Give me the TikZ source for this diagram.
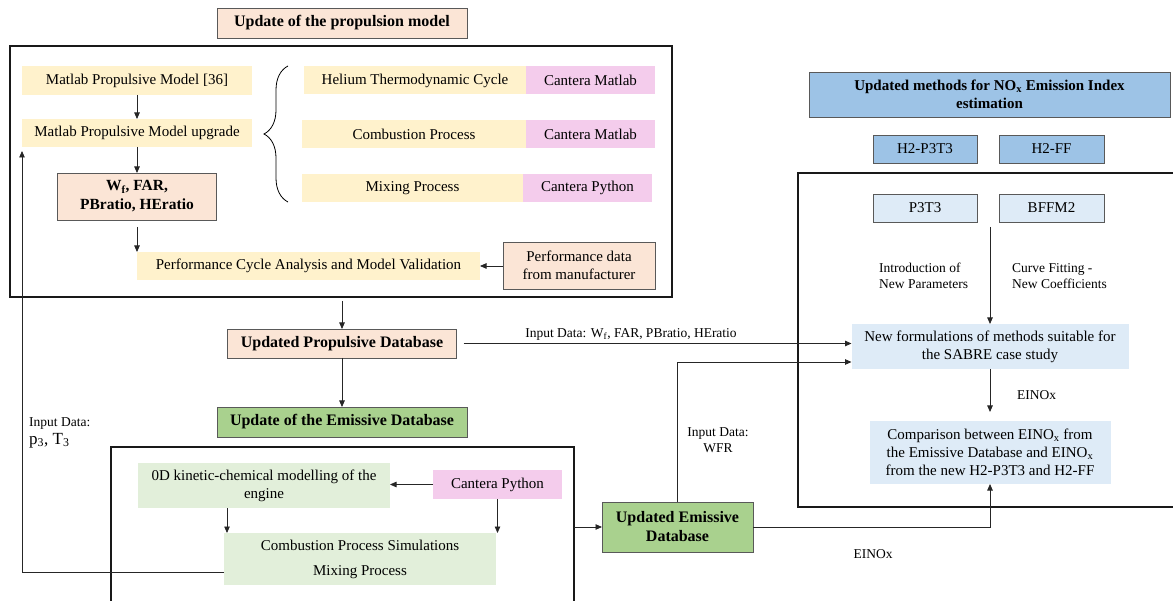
\documentclass[tikz,border=0pt]{standalone}
\usepackage{fontspec}
\setmainfont{Liberation Serif}
\usetikzlibrary{arrows.meta,decorations.pathreplacing,calc}
\definecolor{cyel}{HTML}{FFF2CC}
\definecolor{cpink}{HTML}{F4CCEC}
\definecolor{cpeach}{HTML}{FBE5D6}
\definecolor{cgreen}{HTML}{A9D18E}
\definecolor{clgreen}{HTML}{E2EFDA}
\definecolor{cblue}{HTML}{9DC3E6}
\definecolor{clblue}{HTML}{DEEBF7}
\definecolor{cbord}{HTML}{595959}
\begin{document}
\begin{tikzpicture}[x=1pt,y=-1pt,
  sz/.style 2 args={minimum width=#1pt, minimum height=#2pt},
  base/.style={inner sep=0pt, outer sep=0pt, align=center, font=\fontsize{15}{18}\selectfont},
  yel/.style={base, fill=cyel},
  pnk/.style={base, fill=cpink},
  pch/.style={base, fill=cpeach, draw=cbord, line width=0.8pt},
  pchb/.style={pch, font=\fontsize{16}{19}\selectfont\bfseries},
  grn/.style={base, fill=cgreen, draw=cbord, line width=0.8pt, font=\fontsize{16}{19}\selectfont\bfseries},
  lgrn/.style={base, fill=clgreen},
  blu/.style={base, fill=cblue, draw=cbord, line width=0.8pt},
  lblu/.style={base, fill=clblue, draw=cbord, line width=0.8pt},
  lbluf/.style={base, fill=clblue},
  lbl/.style={inner sep=0pt, font=\fontsize{13.5}{16}\selectfont},
  frame/.style={line width=1.5pt, draw=black!90},
  arr/.style={line width=0.8pt, draw=black!85, -{Triangle[length=6.5pt,width=5.5pt]}},
  ln/.style={line width=0.8pt, draw=black!85}
]
\useasboundingbox (0,0) rectangle (1173,601);

% ---------- top left block ----------
\node[pchb, sz={250}{30}] (title) at (342,23) {Update of the propulsion model};
\node[frame, draw, base, sz={662}{251}] (big) at (341,171.5) {};

\node[yel, sz={230}{29}] (mpm) at (137,80.5) {Matlab Propulsive Model [36]};
\node[yel, sz={230}{28}] (mpmu) at (137,133) {Matlab Propulsive Model upgrade};
\node[pch, sz={159}{47}, font=\fontsize{15.5}{19}\selectfont\bfseries] (wf) at (137,196.5) {W\textsubscript{f}, FAR,\\PBratio, HEratio};
\node[yel, sz={343}{28}, anchor=north west] (perf) at (137,252) {Performance Cycle Analysis and Model Validation};
\node[pch, sz={152}{47}] (pdata) at (579,265.5) {Performance data\\from manufacturer};

\node[yel, sz={222}{28}] (hel) at (415,80.5) {Helium Thermodynamic Cycle};
\node[pnk, sz={129}{28}] (cm1) at (590.5,80.5) {Cantera Matlab};
\node[yel, sz={224}{28}] (comb) at (414,134) {Combustion Process};
\node[pnk, sz={129}{28}] (cm2) at (590.5,134) {Cantera Matlab};
\node[yel, sz={221}{28}] (mix) at (412.5,188) {Mixing Process};
\node[pnk, sz={129}{28}] (cp1) at (587.5,188) {Cantera Python};

\coordinate (brT) at (288,66);
\coordinate (brB) at (288,202);
\draw[line width=0.8pt, decorate, decoration={brace, amplitude=24pt, aspect=0.5}] (brB) -- (brT);

\draw[arr] (mpm) -- (mpmu);
\draw[arr] (mpmu) -- (wf);
\draw[arr, shorten <=7pt] (wf.south) -- (perf.north west);
\draw[arr] (pdata.west |- perf.east) -- (perf.east);

% ---------- middle column ----------
\node[pchb, sz={229}{29}] (pdb) at (342,343.5) {Updated Propulsive Database};
\node[grn, sz={250}{30}] (edb) at (342,422) {Update of the Emissive Database};
\draw[arr, shorten <=4pt] (big.south -| pdb.north) -- (pdb.north);
\draw[arr] (pdb) -- (edb);

\node[lbl, anchor=north west, align=left] (p3t3lbl) at (29,417) {Input Data:\\[2pt]{\fontsize{17}{20}\selectfont p\textsubscript{3}, T\textsubscript{3}}};

% ---------- bottom block ----------
\draw[frame] (111,612) -- (111,447) -- (574,447) -- (574,612);
\node[lgrn, sz={252}{45}] (od) at (264,485.5) {0D kinetic-chemical modelling of the\\engine};
\node[pnk, sz={129}{29}] (cpy) at (497.5,484.5) {Cantera Python};
\node[lgrn, sz={272}{52}] (csim) at (360,559) {Combustion Process Simulations\\[7pt]Mixing Process};
\coordinate (odx) at (227,0);
\draw[arr] (cpy.west) -- (cpy.west -| od.east);
\draw[arr] (od.south -| odx) -- (csim.north -| odx);
\draw[arr] (cpy.south) -- (cpy.south |- csim.north);

\coordinate (fb1) at (22,572);
\coordinate (fb2) at (22,151);
\draw[arr] (csim.west |- fb1) -- (fb1) -- (fb2);

\node[grn, sz={151}{50}] (uedb) at (677.5,527) {Updated Emissive\\Database};
\coordinate (bbr) at (574,527);
\draw[arr] (bbr) -- (uedb.west);

% ---------- right block ----------
\node[blu, sz={361}{45}, font=\fontsize{15}{18}\selectfont\bfseries] (meth) at (989.5,94.5) {Updated methods for NO\textsubscript{x} Emission Index\\estimation};
\node[blu, sz={104}{28}] (h2p) at (925,149) {H2-P3T3};
\node[blu, sz={105}{28}] (h2ff) at (1051.5,149) {H2-FF};
\draw[frame] (1180,173) -- (798,173) -- (798,507) -- (1180,507);
\node[lblu, sz={104}{28}] (p3t3) at (925,208) {P3T3};
\node[lblu, sz={105}{28}] (bffm) at (1051.5,208) {BFFM2};
\node[lbl, anchor=west, align=left] (intro) at (879,276) {Introduction of\\New Parameters};
\node[lbl, anchor=west, align=left] (curve) at (1012,276) {Curve Fitting -\\New Coefficients};
\node[lbluf, sz={277}{45}] (newf) at (990,346.5) {New formulations of methods suitable for\\the SABRE case study};
\node[lbluf, sz={241}{63}] (comp) at (990,452.5) {Comparison between EINO\textsubscript{x} from\\the Emissive Database and EINO\textsubscript{x}\\from the new H2-P3T3 and H2-FF};
\coordinate (vl) at (990,227);
\draw[arr] (vl) -- (vl |- newf.north);
\draw[arr, shorten >=9pt] (newf.south) -- (comp.north);
\node[lbl, anchor=west] (einox1) at (1017,395) {EINOx};

% ---------- connectors between blocks ----------
\draw[arr, shorten <=7pt] (pdb.east) -- (pdb.east -| newf.west);
\node[lbl] (inlbl) at (631,334) {Input Data: W\textsubscript{f}, FAR, PBratio, HEratio};
\coordinate (wfr) at (678,362);
\draw[arr] (uedb.north) -- (uedb.north |- wfr) -- (wfr -| newf.west);
\node[lbl, align=center] (wfrlbl) at (718,440) {Input Data:\\WFR};
\draw[arr] (uedb.east) -- (uedb.east -| comp.south) -- (comp.south);
\node[lbl] (einox2) at (873,554) {EINOx};
\end{tikzpicture}
\end{document}
